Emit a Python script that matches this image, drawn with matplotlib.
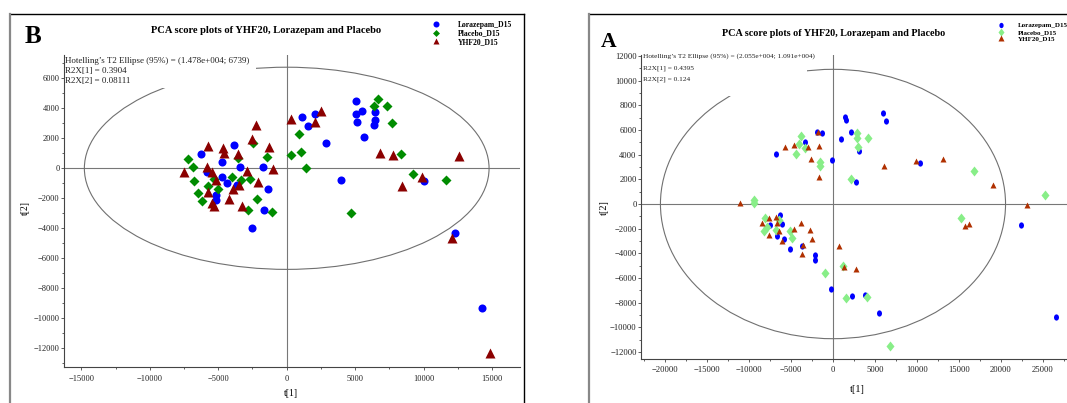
import numpy as np
import matplotlib
matplotlib.use('Agg')
import matplotlib.pyplot as plt
from matplotlib.patches import Ellipse, Rectangle
from matplotlib.lines import Line2D
from matplotlib.markers import MarkerStyle
from matplotlib.transforms import Affine2D
from matplotlib.ticker import MultipleLocator

plt.rcParams['font.family'] = ['Liberation Serif', 'DejaVu Serif']

# ---- panel B scores (t[1], t[2]) ----
b_lora_t1 = [-6280, -3830, -4700, -3400, -1700, -5850, -4700, -4330, -3650, -1380, -5150,
             -5200, -1650, -2560, 5060, 1120, 2050, 1560, 5040, 5520, 6430, 5110, 6440,
             6380, 5630, 2870, 3970, 10010, 12300, 14240]
b_lora_t2 = [950, 1550, 450, 80, 80, -230, -550, -1000, -1100, -1350, -1750,
             -2100, -2800, -4000, 4470, 3400, 3600, 2840, 3640, 3820, 3730, 3110, 3200,
             2890, 2070, 1670, -780, -830, -4330, -9330]

b_plac_t1 = [-7190, -6820, -6770, -6460, -6160, -5770, -5000, -4020, -3340, -2680, -2150,
             -2800, -1050, -1420, -3540, -2460, -5300, 880, 1020, 290, 1390, 6650, 6360,
             7350, 7690, 8370, 9250, 11660, 4680]
b_plac_t2 = [620, 90, -850, -1670, -2180, -1180, -1380, -600, -780, -730, -2050,
             -2780, -2930, 770, 670, 1710, -700, 2270, 1070, 890, 40, 4640, 4170,
             4130, 3040, 930, -400, -800, -2960]

b_yhf_t1 = [-5730, -4680, -4580, -3540, -2540, -1290, -2280, -7480, -5840, -5480, -5170,
            -2880, -980, -2080, -3950, -3460, -5770, -4190, -5480, -5290, -3240, 340,
            2510, 2090, 6820, 7770, 12610, 9880, 8400, 12050, 14870]
b_yhf_t2 = [1490, 1370, 1000, 930, 1950, 1400, 2900, -230, 70, -230, -780,
            -180, -50, -890, -1400, -1110, -1560, -2050, -2330, -2510, -2490, 3290,
            3840, 3070, 1000, 910, 820, -600, -1180, -4670, -12330]

b_t2crit = (14780, 6739)
b_r2x = ('0.3904', '0.08111')

# ---- panel A scores (t[1], t[2]) ----
a_lora_t1 = [1450, 1550, 6010, 6370, -1940, -1350, -3300, -6820, -120, 990, 2180, 3130,
             2740, 10320, -6310, -6110, -7500, -6630, -5840, -5120, -3730, -2140, -2140,
             -270, 2250, 3780, 5460, 22430, 26560]
a_lora_t2 = [7050, 6800, 7400, 6750, 5800, 5720, 5000, 4050, 3590, 5290, 5830, 4270,
             1780, 3290, -890, -1620, -1700, -2570, -2840, -3670, -3380, -4130, -4560,
             -6910, -7430, -7370, -8830, -1730, -9160]

a_plac_t1 = [-3810, -4010, -4410, -3340, -1550, -1510, 2820, 2820, 4170, 3010, 2180,
             -9410, -9410, 16750, 25250, -8100, -7900, -8220, -6790, -5120, -4920, -6400,
             -910, 1550, 4060, 1250, 15250, 6830]
a_plac_t2 = [5540, 4860, 4080, 4510, 3430, 3080, 5780, 5320, 5350, 4640, 2000,
             320, 60, 2700, 760, -1160, -1840, -2190, -2110, -2160, -2730, -1300,
             -5600, -7640, -7510, -5000, -1110, -11500]

a_yhf_t1 = [-1820, -5720, -4690, -3020, -1710, -2620, -1670, -11040, 6110, 9890, 13140,
            19020, 23110, 15720, 16200, -7620, -6790, -8490, -6630, -3810, -4650, -2740,
            -6400, -7620, -6110, -2540, -3610, -3690, 750, 1310, 2740]
a_yhf_t2 = [5850, 4640, 4810, 4590, 4730, 3650, 2160, 60, 3110, 3510, 3620,
            1540, -110, -1780, -1590, -1160, -1080, -1570, -1510, -1570, -2050, -2110,
            -2160, -2510, -2970, -2840, -3320, -4050, -3400, -5080, -5230]

a_t2crit = (20550, 10910)
a_r2x = ('0.4395', '0.124')

groups = ['Lorazepam_D15', 'Placebo_D15', 'YHF20_D15']
title = 'PCA score plots of YHF20, Lorazepam and Placebo'

W, H = 1067, 403


def simca_fmt(v):
    # SIMCA writes large numbers as 1.478e+004
    if abs(v) >= 1e4:
        e = int(np.floor(np.log10(abs(v))))
        return f'{v / 10 ** e:.3f}e+{e:03d}'
    return f'{v:.0f}'


def fig_box(left, top, right, bottom):
    return [left / W, 1 - bottom / H, (right - left) / W, (bottom - top) / H]


def style_axes(ax, xlim, ylim, tick_size):
    ax.set_xlim(*xlim)
    ax.set_ylim(*ylim)
    for s in ('top', 'right'):
        ax.spines[s].set_visible(False)
    for s in ('left', 'bottom'):
        ax.spines[s].set_color('#444444')
        ax.spines[s].set_linewidth(0.8)
    ax.xaxis.set_major_locator(MultipleLocator(5000))
    ax.xaxis.set_minor_locator(MultipleLocator(2500))
    ax.yaxis.set_major_locator(MultipleLocator(2000))
    ax.yaxis.set_minor_locator(MultipleLocator(1000))
    ax.tick_params(which='both', direction='out', color='#444444', width=0.6,
                   labelsize=tick_size, labelcolor='#222222')
    ax.tick_params(which='major', length=2.2)
    ax.tick_params(which='minor', length=1.4)
    ax.tick_params(axis='x', pad=3)
    ax.tick_params(axis='y', pad=0.8)
    ax.axhline(0, color='#777777', lw=0.8, zorder=0.5)
    ax.axvline(0, color='#777777', lw=0.8, zorder=0.5)
    ax.set_facecolor('none')


def info_block(ax, crit, r2x, box_w, box_y0, tx, ty, size):
    ax.add_patch(Rectangle((0, box_y0), box_w, 1 - box_y0, transform=ax.transAxes,
                           fc='white', ec='none', zorder=2, clip_on=False))
    lines = [f'Hotelling\u2019s T2 Ellipse (95%) = ({simca_fmt(crit[0])}; {simca_fmt(crit[1])})',
             f'R2X[1] = {r2x[0]}', f'R2X[2] = {r2x[1]}']
    for line, y in zip(lines, ty):
        ax.text(tx, y, line, transform=ax.transAxes, fontsize=size, va='center',
                ha='left', color='#222222', zorder=3)


def panel_frame(x0, x1, top):
    fig.add_artist(Line2D([x0 / W, x1 / W], [1 - top / H, 1 - top / H], color='black',
                          lw=1.0, transform=fig.transFigure))
    fig.add_artist(Line2D([x0 / W, x0 / W], [0, 1 - top / H], color='#888888',
                          lw=1.6, transform=fig.transFigure))
    if x1 < W:
        fig.add_artist(Line2D([x1 / W, x1 / W], [0, 1 - top / H], color='black',
                              lw=1.0, transform=fig.transFigure))


fig = plt.figure(figsize=(W / 100, H / 100), dpi=100)
fig.patch.set_facecolor('white')

# ---------------- panel B ----------------
panel_frame(9.6, 524, 14)
axb = fig.add_axes(fig_box(63.7, 55, 520, 367.3))
style_axes(axb, (-16290, 17040), (-13267, 7553), 6.0)
axb.add_patch(Ellipse((0, 0), 2 * b_t2crit[0], 2 * b_t2crit[1], fill=False,
                      ec='#707070', lw=0.8, zorder=1))
info_block(axb, b_t2crit, b_r2x, 0.4214, 0.8943, 0.0037, (0.9817, 0.9488, 0.9167), 6.5)

b_series = [(b_lora_t1, b_lora_t2, 'o', 5.8, '#0000ff'),
            (b_plac_t1, b_plac_t2, 'D', 4.7, '#008c00'),
            (b_yhf_t1, b_yhf_t2, '^', 6.6, '#8b0000')]
b_handles = []
for (t1, t2, m, ms, c), name in zip(b_series, groups):
    h, = axb.plot(t1, t2, ls='none', marker=m, ms=ms, color=c, mec='none',
                  label=name, zorder=4)
    b_handles.append(h)

axb.set_xlabel('t[1]', fontsize=7, va='center')
axb.xaxis.set_label_coords(0.498, -0.0833)
axb.set_ylabel('t[2]', fontsize=7, va='center')
axb.yaxis.set_label_coords(-0.0831, 0.509)

fig.legend(b_handles, groups, loc='upper left', bbox_to_anchor=(432 / W, 1 - 21 / H),
           frameon=False, prop={'family': 'Liberation Serif', 'weight': 'bold', 'size': 5.5},
           handlelength=1.0, handletextpad=2.4, labelspacing=0.05, borderpad=0,
           borderaxespad=0, markerscale=0.75)

fig.text(266.4 / W, 1 - 30.7 / H, title, ha='center', va='center', fontsize=7.6,
         fontweight='bold')
fig.text(32.7 / W, 1 - 36.7 / H, 'B', ha='center', va='center', fontsize=18,
         fontweight='bold')

# ---------------- panel A ----------------
panel_frame(588.7, W + 10, 14)
axa = fig.add_axes(fig_box(640.8, 55, W, 358.7))
style_axes(axa, (-22890, 27870), (-12530, 12070), 6.2)
axa.add_patch(Ellipse((0, 0), 2 * a_t2crit[0], 2 * a_t2crit[1], fill=False,
                      ec='#707070', lw=0.8, zorder=1))
info_block(axa, a_t2crit, a_r2x, 0.390, 0.865, 0.0056, (0.9977, 0.9572, 0.9200), 5.3)

# markers in this panel are slightly narrower than they are tall
squeeze = Affine2D().scale(0.8, 1.0)
a_series = [(a_lora_t1, a_lora_t2, MarkerStyle('o', transform=squeeze), 4.5, '#0000ff'),
            (a_plac_t1, a_plac_t2, MarkerStyle('D', transform=squeeze), 4.7, '#88ee88'),
            (a_yhf_t1, a_yhf_t2, MarkerStyle('^'), 5.0, '#b03000')]
a_handles = []
for (t1, t2, m, ms, c), name in zip(a_series, groups):
    h, = axa.plot(t1, t2, ls='none', marker=m, ms=ms, color=c, mec='none',
                  label=name, zorder=4, clip_on=False)
    a_handles.append(h)

axa.set_xlabel('t[1]', fontsize=7.5, va='center')
axa.xaxis.set_label_coords((857.6 - 640.8) / (W - 640.8), -0.103)
axa.set_ylabel('t[2]', fontsize=7.5, va='center')
axa.yaxis.set_label_coords((603.9 - 640.8) / (W - 640.8), 0.4985)

fig.legend(a_handles, groups, loc='upper left', bbox_to_anchor=(997.5 / W, 1 - 22.5 / H),
           frameon=False, prop={'family': 'Liberation Serif', 'weight': 'bold', 'size': 5.0},
           handlelength=1.0, handletextpad=2.0, labelspacing=0.12, borderpad=0,
           borderaxespad=0, markerscale=0.85)

fig.text(834 / W, 1 - 33.3 / H, title, ha='center', va='center', fontsize=7.3,
         fontweight='bold')
fig.text(609 / W, 1 - 42.2 / H, 'A', ha='center', va='center', fontsize=15.6,
         fontweight='bold')

fig.savefig('out.png', dpi=100)
plt.close(fig)
